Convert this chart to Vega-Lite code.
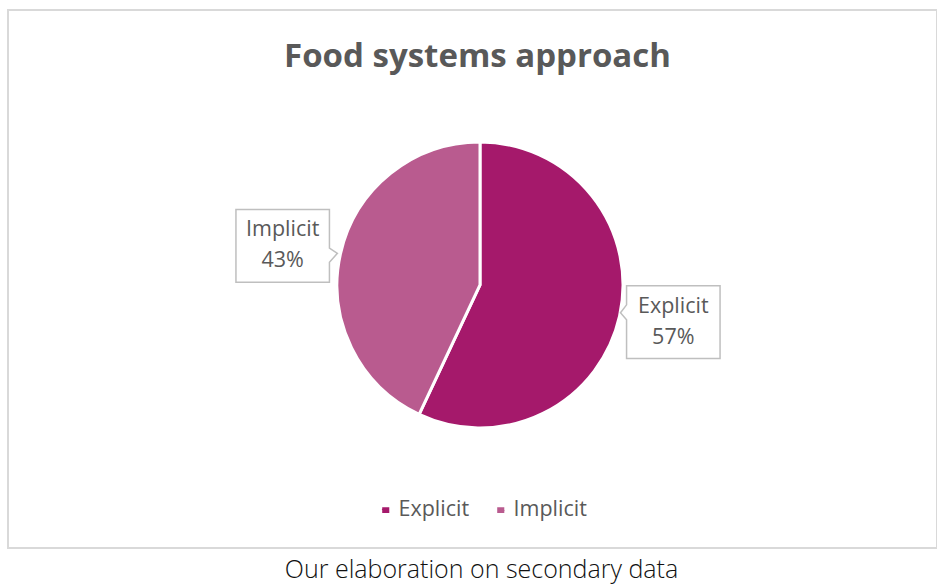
{
  "$schema": "https://vega.github.io/schema/vega-lite/v6.json",
  "width": 929,
  "height": 538,
  "autosize": {"type": "none"},
  "padding": {"left": 8, "top": 10, "right": 0, "bottom": 37},
  "background": "white",
  "view": {"stroke": "#D9D9D9", "strokeWidth": 2},
  "title": {
    "text": "Food systems approach",
    "orient": "top",
    "anchor": "middle",
    "offset": -64,
    "dx": 5,
    "fontSize": 33,
    "font": "Open Sans",
    "fontWeight": "bold",
    "color": "#595959"
  },
  "data": {
    "values": [
      {"category": "Explicit", "value": 57, "label": ["Explicit", "57%"]},
      {"category": "Implicit", "value": 43, "label": ["Implicit", "43%"]}
    ]
  },
  "layer": [
    {
      "mark": {
        "type": "arc",
        "outerRadius": 143,
        "stroke": "white",
        "strokeWidth": 3,
        "x": {"expr": "width/2+7.5"},
        "y": {"expr": "height/2+6"}
      },
      "encoding": {
        "theta": {"field": "value", "type": "quantitative", "stack": true},
        "color": {
          "field": "category",
          "type": "nominal",
          "scale": {"domain": ["Explicit", "Implicit"], "range": ["#A5196B", "#B95B8F"]},
          "legend": {
            "orient": "none",
            "legendX": 367,
            "legendY": 489,
            "direction": "horizontal",
            "title": null,
            "symbolType": "square",
            "symbolSize": 50,
            "symbolStrokeWidth": 0,
            "labelFontSize": 21.5,
            "labelFont": "Open Sans",
            "labelColor": "#595959",
            "labelOffset": 2,
            "columnPadding": 20
          }
        }
      }
    },
    {
      "transform": [
        {"stack": "value", "groupby": [], "sort": [{"field": "category", "order": "ascending"}], "as": ["v0", "v1"]}
      ],
      "layer": [
        {
          "mark": {
            "type": "point",
            "filled": true,
            "fill": "white",
            "stroke": "#BFBFBF",
            "strokeWidth": 1.5,
            "opacity": 1,
            "size": 8740,
            "x": {"expr": "width/2+5.5+199*sin(PI*(datum.v0+datum.v1)/100-0.027)"},
            "y": {"expr": "height/2+5-199*cos(PI*(datum.v0+datum.v1)/100-0.027)"}
          },
          "encoding": {
            "shape": {
              "field": "category",
              "type": "nominal",
              "scale": {
                "domain": ["Explicit", "Implicit"],
                "range": [
                  "M-1,-0.78L1,-0.78L1,0.78L-1,0.78L-1,-0.05L-1.13,-0.2L-1,-0.37Z",
                  "M-1,-0.78L1,-0.78L1,0.05L1.17,0.16L1,0.35L1,0.78L-1,0.78Z"
                ]
              },
              "legend": null
            }
          }
        },
        {
          "mark": {
            "type": "text",
            "fontSize": 21.5,
            "font": "Open Sans",
            "color": "#595959",
            "lineHeight": 31,
            "baseline": "middle",
            "dy": -15.5,
            "x": {"expr": "width/2+5.5+199*sin(PI*(datum.v0+datum.v1)/100-0.027)"},
            "y": {"expr": "height/2+5-199*cos(PI*(datum.v0+datum.v1)/100-0.027)"}
          },
          "encoding": {
            "text": {"field": "label"}
          }
        }
      ]
    },
    {
      "data": {"values": [{"caption": "Our elaboration on secondary data"}]},
      "mark": {
        "type": "text",
        "fontSize": 25,
        "font": "Open Sans",
        "fontWeight": 300,
        "color": "#111111",
        "baseline": "middle",
        "x": {"expr": "width/2+9"},
        "y": {"expr": "height+22"}
      },
      "encoding": {"text": {"field": "caption"}}
    }
  ]
}
